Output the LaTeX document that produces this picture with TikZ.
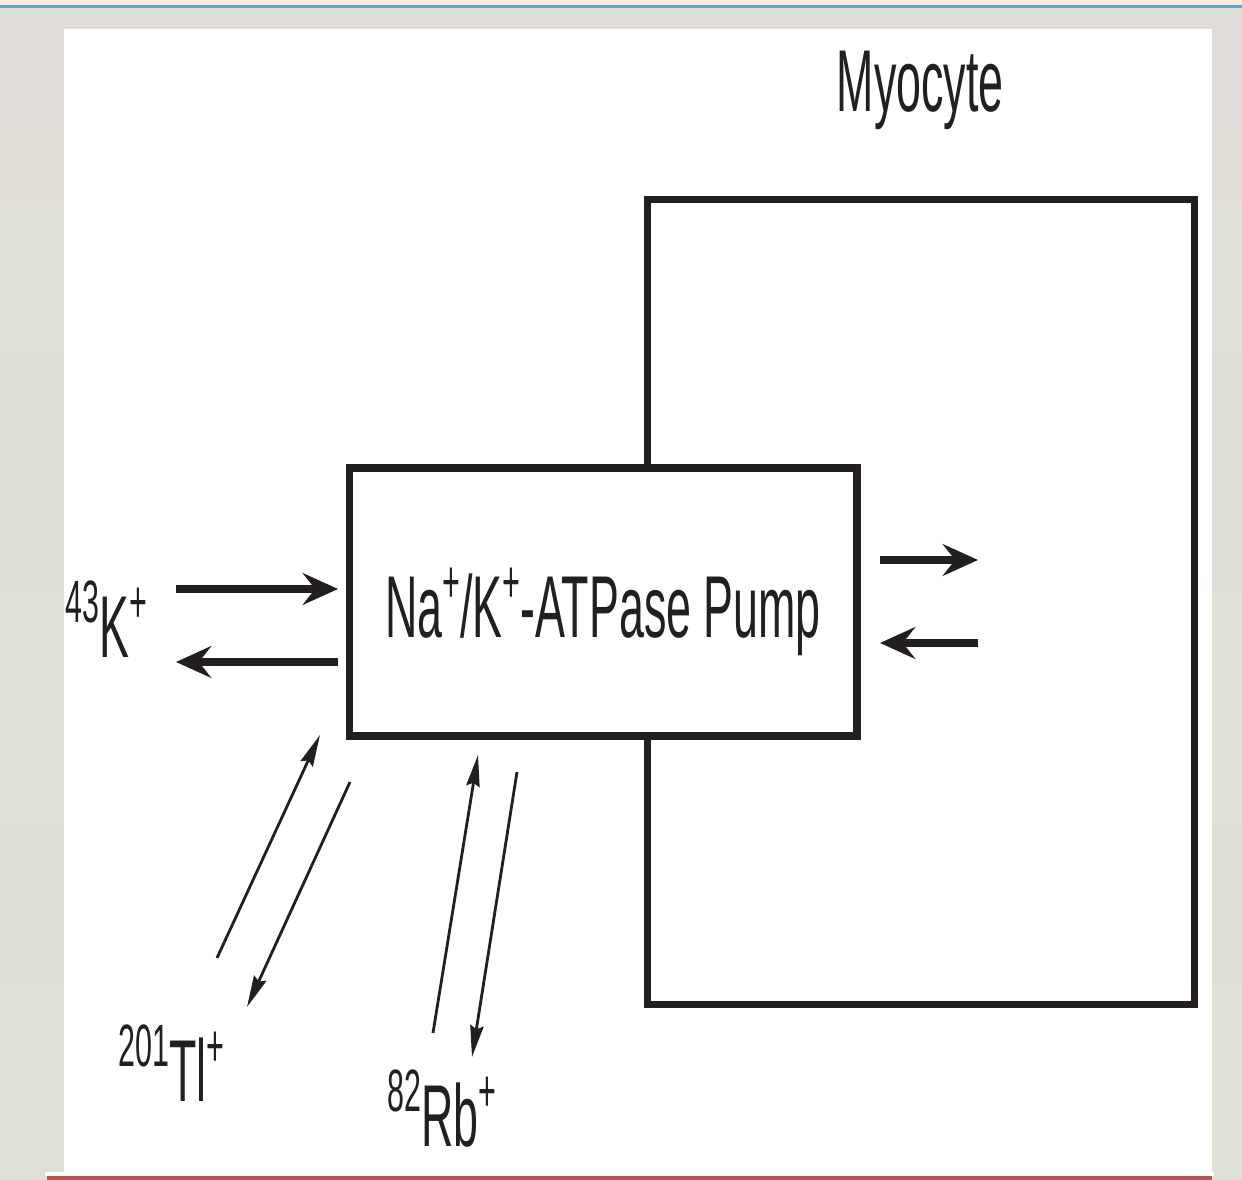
\documentclass[tikz,border=0pt]{standalone}
\usepackage{fontspec}
\setmainfont{Liberation Sans}
\usetikzlibrary{arrows.meta}
\definecolor{ink}{HTML}{231F20}
\definecolor{bgtop}{HTML}{E0DDD8}
\definecolor{bgbot}{HTML}{DDE0D3}
\definecolor{peach}{HTML}{FDE9DB}
\definecolor{topblue}{HTML}{4BACC6}
\definecolor{redbar}{HTML}{C0504D}
\newcommand{\supx}[1]{\raisebox{10pt}{\fontsize{17}{17}\selectfont #1}}
\newcommand{\lab}[1]{\scalebox{0.51}[1]{\fontsize{25}{25}\selectfont #1}}
\tikzset{
  boxline/.style={draw=ink, line width=2pt},
  thickarrow/.style={draw=ink, line width=2.4pt, -{Stealth[length=10pt,width=9pt,inset=3.5pt]}},
  thinarrow/.style={draw=ink, line width=0.8pt, -{Stealth[length=9pt,width=3.8pt,inset=1pt]}},
  txt/.style={inner sep=0pt, text=ink}
}
\begin{document}
\begin{tikzpicture}[x=0.1mm, y=-0.1mm]
\useasboundingbox (0,0) rectangle (1242,1180);
% background
\shade[top color=bgtop, bottom color=bgbot] (0,0) rectangle (1242,1180);
\fill[peach] (0,0) rectangle (1242,5);
\fill[topblue] (0,5) rectangle (1242,8.5);
\fill[white] (64,29) rectangle (1212,1176);
\fill[white] (45,1172) rectangle (1214,1176);
\fill[redbar] (47,1176) rectangle (1212,1180);
% boxes
\node[boxline, minimum width=54.7mm, minimum height=80.5mm, inner sep=0pt] (myo) at (921,602) {};
\node[boxline, fill=white, minimum width=50.75mm, minimum height=26.8mm, inner sep=0pt] (pump) at (603.25,602) {};
% texts
\node[txt, anchor=base] (pumptext) at (603,638) {\lab{Na\supx{+}/K\supx{+}-ATPase Pump}};
\node[txt, anchor=base west] (myotext) at (836,112) {\lab{Myocyte}};
\node[txt, anchor=base west] (k43) at (65,658) {\lab{\supx{43}K\supx{+}}};
\node[txt, anchor=base west] (tl201) at (118,1102) {\lab{\supx{201}Tl\supx{+}}};
\node[txt, anchor=base west] (rb82) at (387,1147) {\lab{\supx{82}Rb\supx{+}}};
% arrow end points
\coordinate (kin1) at (176,589); \coordinate (kin2) at (338,589);
\coordinate (kout1) at (338,662); \coordinate (kout2) at (176,662);
\coordinate (rin1) at (880,560); \coordinate (rin2) at (978,560);
\coordinate (rout1) at (978,643); \coordinate (rout2) at (880,643);
\coordinate (tlin1) at (217,958); \coordinate (tlin2) at (320,735);
\coordinate (tlout1) at (350,782); \coordinate (tlout2) at (247,1007);
\coordinate (rbin1) at (433,1033); \coordinate (rbin2) at (478,755);
\coordinate (rbout1) at (517,772); \coordinate (rbout2) at (472,1057);
% arrows
\draw[thickarrow] (kin1) -- (kin2);
\draw[thickarrow] (kout1) -- (kout2);
\draw[thickarrow] (rin1) -- (rin2);
\draw[thickarrow] (rout1) -- (rout2);
\draw[thinarrow] (tlin1) -- (tlin2);
\draw[thinarrow] (tlout1) -- (tlout2);
\draw[thinarrow] (rbin1) -- (rbin2);
\draw[thinarrow] (rbout1) -- (rbout2);
\end{tikzpicture}
\end{document}
